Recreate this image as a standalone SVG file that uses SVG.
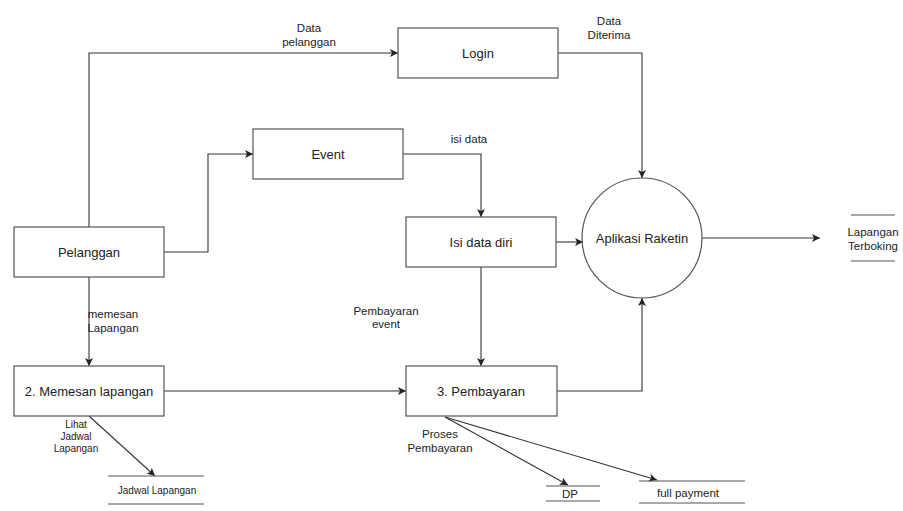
<svg xmlns="http://www.w3.org/2000/svg" width="903" height="511" viewBox="0 0 903 511">
<style>
.box{fill:#fff;stroke:#555;stroke-width:1.2}
.ln{fill:none;stroke:#333;stroke-width:1.1}
.st{stroke:#555;stroke-width:1.2}
text{font-family:"Liberation Sans",Arial,sans-serif;fill:#222}
.t13{font-size:13px;text-anchor:middle}
.t11{font-size:11.5px;text-anchor:middle}
.t10{font-size:10px;text-anchor:middle}
</style>
<defs>
<marker id="ah" viewBox="0 0 10 10" refX="10" refY="5" markerWidth="8" markerHeight="8" markerUnits="userSpaceOnUse" orient="auto">
<path d="M0,0 L10,5 L0,10 L2.5,5 Z" fill="#222"/>
</marker>
</defs>
<rect width="903" height="511" fill="#fff"/>
<g id="connectors">
<path class="ln" d="M89,227 V53 H398" marker-end="url(#ah)"/>
<path class="ln" d="M164,252 H208 V154 H253" marker-end="url(#ah)"/>
<path class="ln" d="M403,154 H481 V217" marker-end="url(#ah)"/>
<path class="ln" d="M558,53 H642 V178" marker-end="url(#ah)"/>
<path class="ln" d="M556,242 H583" marker-end="url(#ah)"/>
<path class="ln" d="M481,267 V366" marker-end="url(#ah)"/>
<path class="ln" d="M557,391 H642 V298" marker-end="url(#ah)"/>
<path class="ln" d="M702,238 H820" marker-end="url(#ah)"/>
<path class="ln" d="M89,277 V366" marker-end="url(#ah)"/>
<path class="ln" d="M164,391 H406" marker-end="url(#ah)"/>
<path class="ln" d="M89,416 L155,476" marker-end="url(#ah)"/>
<path class="ln" d="M445,417 L568,485" marker-end="url(#ah)"/>
<path class="ln" d="M445,417 L657,480" marker-end="url(#ah)"/>
<text class="t11" x="309" y="32">Data</text>
<text class="t11" x="309" y="46">pelanggan</text>
<text class="t11" x="609" y="25">Data</text>
<text class="t11" x="609" y="39">Diterima</text>
<text class="t11" x="469" y="143">isi data</text>
<text class="t11" x="113" y="318">memesan</text>
<text class="t11" x="113" y="332">Lapangan</text>
<text class="t11" x="386" y="315">Pembayaran</text>
<text class="t11" x="386" y="328">event</text>
<text class="t10" x="76" y="428">Lihat</text>
<text class="t10" x="76" y="440">Jadwal</text>
<text class="t10" x="76" y="452">Lapangan</text>
<text class="t11" x="440" y="438">Proses</text>
<text class="t11" x="440" y="452">Pembayaran</text>
</g>
<g id="login"><rect class="box" x="398" y="28" width="160" height="50"/><text class="t13" x="478" y="58">Login</text></g>
<g id="event"><rect class="box" x="253" y="129" width="150" height="50"/><text class="t13" x="328" y="159">Event</text></g>
<g id="pelanggan"><rect class="box" x="14" y="227" width="150" height="50"/><text class="t13" x="89" y="257">Pelanggan</text></g>
<g id="isi-data-diri"><rect class="box" x="406" y="217" width="150" height="50"/><text class="t13" x="481" y="247">Isi data diri</text></g>
<g id="memesan"><rect class="box" x="14" y="366" width="150" height="50"/><text class="t13" x="89" y="396">2. Memesan lapangan</text></g>
<g id="pembayaran"><rect class="box" x="406" y="366" width="151" height="50"/><text class="t13" x="481" y="396">3. Pembayaran</text></g>
<g id="aplikasi"><circle class="box" cx="642" cy="238" r="60"/><text class="t13" x="642" y="243">Aplikasi Raketin</text></g>
<g id="lapangan-terboking"><line class="st" x1="851" y1="215" x2="895" y2="215"/><line class="st" x1="851" y1="261" x2="895" y2="261"/><text class="t11" x="873" y="236">Lapangan</text><text class="t11" x="873" y="250">Terboking</text></g>
<g id="jadwal-lapangan"><line class="st" x1="108" y1="476" x2="204" y2="476"/><line class="st" x1="108" y1="504" x2="204" y2="504"/><text class="t10" x="157" y="494">Jadwal Lapangan</text></g>
<g id="dp"><line class="st" x1="546" y1="486" x2="600" y2="486"/><line class="st" x1="546" y1="501" x2="600" y2="501"/><text class="t11" x="570" y="498">DP</text></g>
<g id="full-payment"><line class="st" x1="639" y1="481" x2="745" y2="481"/><line class="st" x1="639" y1="503" x2="745" y2="503"/><text class="t11" x="688" y="497">full payment</text></g>
</svg>
